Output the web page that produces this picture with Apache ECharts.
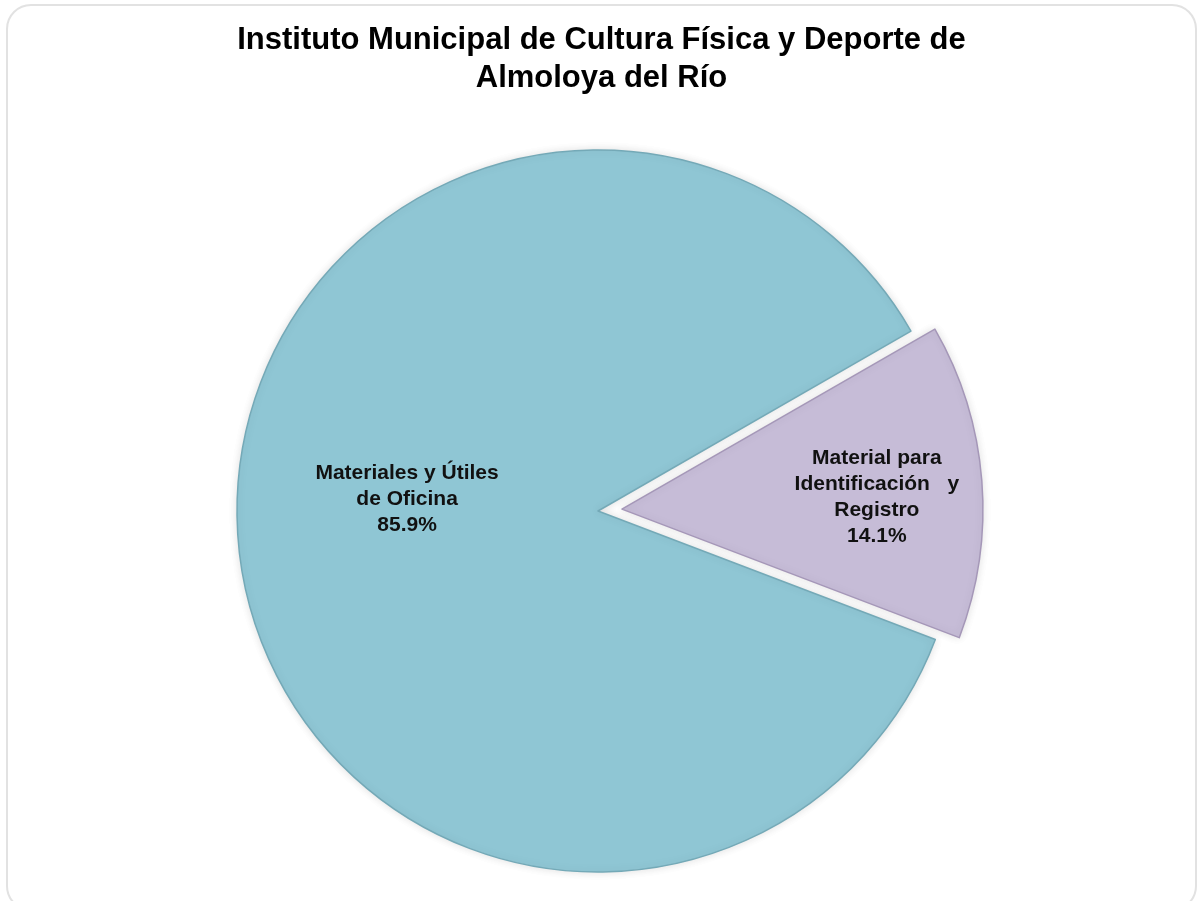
<!DOCTYPE html>
<html>
<head>
<meta charset="utf-8">
<script src="https://cdn.jsdelivr.net/npm/echarts@6/dist/echarts.min.js"></script>
<style>
  html, body { margin: 0; padding: 0; background: #ffffff; }
  #chart { width: 1203px; height: 901px; }
</style>
</head>
<body>
<div id="chart"></div>
<script>
const titleText = 'Instituto Municipal de Cultura Física y Deporte de\nAlmoloya del Río';
const categories = ['Material para\nIdentificación   y\nRegistro', 'Materiales y Útiles\nde Oficina'];
const values = [14.1, 85.9];
const colors = ['#C6BCD7', '#8FC6D4'];
const borders = ['#A597B8', '#74A9B7'];

const chart = echarts.init(document.getElementById('chart'), null, { renderer: 'canvas' });

const labelOffsets = [[72, 3], [-8, -26]];

const data = categories.map((name, i) => ({
  name: name,
  value: values[i],
  selected: i === 0,
  itemStyle: { color: colors[i], borderColor: borders[i], borderWidth: 1.5 },
  label: { offset: labelOffsets[i] },
  select: {
    itemStyle: { color: colors[i], borderColor: borders[i], borderWidth: 1.5 },
    label: { offset: labelOffsets[i] }
  }
}));

chart.setOption({
  animation: false,
  backgroundColor: '#ffffff',
  graphic: [{
    type: 'rect',
    shape: { x: 7, y: 5, width: 1189, height: 905, r: 24 },
    style: { fill: 'none', stroke: '#e2e2e2', lineWidth: 2 },
    silent: true,
    z: -10
  }],
  title: {
    text: titleText,
    left: 'center',
    top: 16,
    textStyle: {
      fontFamily: 'Liberation Sans, Arial, sans-serif',
      fontSize: 31,
      fontWeight: 'bold',
      color: '#000000',
      lineHeight: 38
    }
  },
  series: [{
    type: 'pie',
    center: [598, 511],
    radius: [0, 361],
    startAngle: 29.9,
    clockwise: true,
    selectedMode: 'single',
    selectedOffset: 24,
    avoidLabelOverlap: false,
    itemStyle: {
      shadowBlur: 8,
      shadowColor: 'rgba(0,0,0,0.12)'
    },
    label: {
      show: true,
      position: 'inside',
      formatter: p => p.name + '\n' + p.value.toFixed(1) + '%',
      fontFamily: 'Liberation Sans, Arial, sans-serif',
      fontSize: 21,
      fontWeight: 'bold',
      color: '#111111',
      lineHeight: 26,
      align: 'center'
    },
    labelLine: { show: false },
    emphasis: { disabled: true },
    data: data
  }]
});
</script>
</body>
</html>
